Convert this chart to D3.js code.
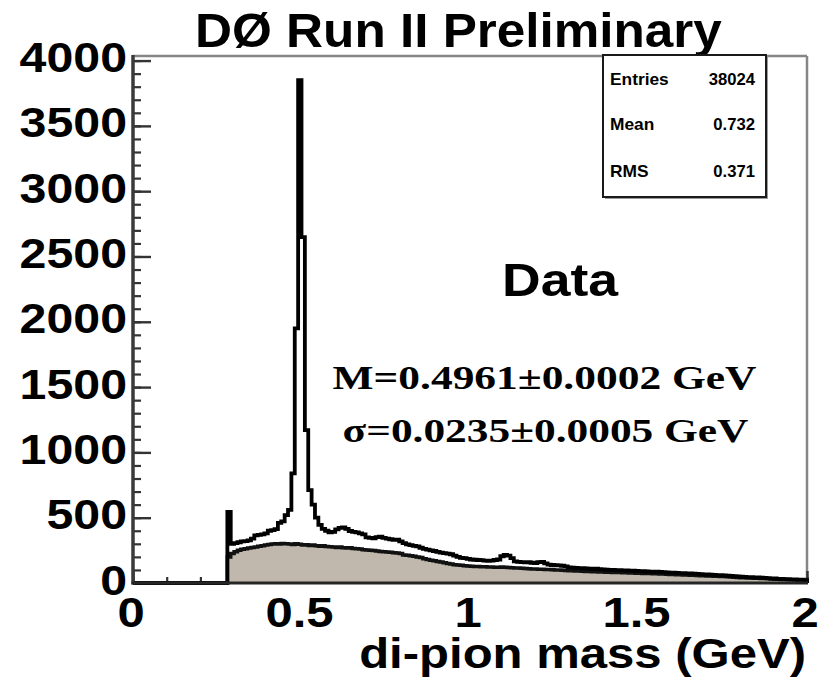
<!DOCTYPE html>
<html>
<head>
<meta charset="utf-8">
<script src="https://cdn.jsdelivr.net/npm/d3@7"></script>
<style>
  html, body { margin: 0; padding: 0; background: #fff; }
  svg { display: block; }
</style>
</head>
<body>
<svg id="chart" width="829" height="695"></svg>
<script>
// ---- histogram content: di-pion invariant mass, 200 bins of 0.01 GeV from 0 to 2 GeV ----
const binWidth = 0.01;

// all pion pairs (open histogram with the K0s peak)
const totalCounts = [
  0, 0, 0, 0, 0, 0, 0, 0, 0, 0,
  0, 0, 0, 0, 0, 0, 0, 0, 0, 0,
  0, 0, 0, 0, 0, 0, 0, 0, 545, 300,
  305, 312, 318, 320, 326, 340, 365, 368, 372, 380,
  400, 405, 412, 460, 472, 520, 560, 840, 1950, 3850,
  2648, 1170, 711, 600, 500, 445, 415, 400, 388, 392,
  410, 422, 425, 415, 398, 392, 388, 380, 372, 350,
  345, 342, 352, 355, 345, 340, 335, 330, 332, 318,
  305, 296, 290, 285, 280, 270, 262, 255, 250, 245,
  238, 232, 228, 225, 220, 210, 200, 192, 190, 185,
  180, 178, 176, 175, 172, 170, 172, 176, 180, 205,
  215, 210, 190, 165, 162, 160, 158, 160, 155, 152,
  160, 162, 150, 140, 138, 136, 135, 132, 128, 120,
  118, 116, 114, 113, 112, 110, 108, 110, 106, 104,
  102, 101, 100, 99, 98, 97, 96, 95, 94, 92,
  91, 90, 88, 87, 86, 86, 85, 84, 82, 80,
  79, 77, 76, 75, 74, 73, 72, 70, 68, 66,
  65, 63, 62, 61, 60, 58, 57, 55, 53, 50,
  48, 46, 45, 44, 43, 42, 41, 40, 38, 36,
  35, 32, 31, 30, 29, 28, 27, 26, 25, 22
];

// combinatorial background (shaded histogram)
const backgroundCounts = [
  0, 0, 0, 0, 0, 0, 0, 0, 0, 0,
  0, 0, 0, 0, 0, 0, 0, 0, 0, 0,
  0, 0, 0, 0, 0, 0, 0, 0, 200, 225,
  240, 250, 258, 262, 268, 272, 276, 282, 285, 290,
  295, 298, 300, 298, 302, 300, 298, 295, 300, 296,
  290, 292, 288, 290, 285, 282, 286, 280, 278, 275,
  272, 275, 270, 268, 270, 265, 262, 260, 255, 252,
  250, 248, 245, 242, 240, 238, 235, 232, 230, 225,
  215, 212, 208, 205, 200, 195, 185, 180, 175, 170,
  165, 160, 155, 150, 145, 140, 138, 135, 133, 130,
  128, 127, 126, 125, 124, 123, 122, 121, 120, 122,
  120, 118, 116, 115, 114, 112, 111, 110, 108, 107,
  106, 105, 104, 103, 102, 100, 99, 97, 95, 94,
  93, 92, 91, 90, 89, 88, 87, 86, 85, 84,
  83, 82, 81, 80, 80, 79, 78, 77, 76, 75,
  74, 73, 72, 72, 71, 70, 69, 68, 67, 66,
  65, 64, 63, 62, 61, 60, 59, 58, 56, 55,
  54, 53, 52, 51, 50, 49, 47, 46, 44, 42,
  41, 40, 39, 38, 37, 36, 35, 34, 32, 31,
  29, 28, 27, 26, 25, 24, 23, 22, 21, 20
];

// axes
const xDomain = [0, 2];
const yDomain = [0, 4035];
const xTickValues = [0, 0.5, 1, 1.5, 2];
const xTickLabels = ["0", "0.5", "1", "1.5", "2"];
const xMinorStep = 0.1;
const yTickValues = [0, 500, 1000, 1500, 2000, 2500, 3000, 3500, 4000];
const yTickLabels = ["0", "500", "1000", "1500", "2000", "2500", "3000", "3500", "4000"];
const yMinorStep = 100;

// texts
const titleText = "DØ Run II Preliminary";
const xAxisTitle = "di-pion mass (GeV)";
const sampleLabel = "Data";
const fitResults = ["M=0.4961±0.0002 GeV", "σ=0.0235±0.0005 GeV"];
const statNames = ["Entries", "Mean", "RMS"];
const statValues = ["38024", "0.732", "0.371"];

// ---- layout ----
const frame = { left: 133, right: 807, top: 56, bottom: 583 };
const SANS = "'Liberation Sans', Arial, Helvetica, sans-serif";
const SERIF = "'Liberation Serif', 'Times New Roman', Times, serif";

const svg = d3.select("#chart");
const x = d3.scaleLinear().domain(xDomain).range([frame.left, frame.right]);
const y = d3.scaleLinear().domain(yDomain).range([frame.bottom, frame.top]);

// place a text, then stretch it horizontally to a given width about its anchor
function fitText(parent, str, opts) {
  const t = parent.append("text")
    .attr("font-family", opts.family)
    .attr("font-size", opts.size)
    .attr("font-weight", opts.weight || "normal")
    .attr("text-anchor", opts.anchor || "start")
    .attr("fill", opts.fill || "#000")
    .text(str);
  let sx = opts.scale || 1;
  if (opts.width) {
    const len = t.node().getComputedTextLength();
    if (len > 0) sx = opts.width / len;
  }
  t.attr("transform", `translate(${opts.x},${opts.y}) scale(${sx},1)`);
  return t;
}

// frame top and right (light)
svg.append("line")
  .attr("x1", frame.left).attr("x2", frame.right)
  .attr("y1", frame.top).attr("y2", frame.top)
  .attr("stroke", "#868686").attr("stroke-width", 2.5);
svg.append("line")
  .attr("x1", frame.right).attr("x2", frame.right)
  .attr("y1", frame.top).attr("y2", frame.bottom)
  .attr("stroke", "#868686").attr("stroke-width", 2.5);

// ticks (drawn inside the frame)
function styleTicks(g, color, width) {
  g.select(".domain").remove();
  g.selectAll(".tick line").attr("stroke", color).attr("stroke-width", width);
  g.selectAll(".tick text").remove();
}
const yMinor = d3.range(yDomain[0], 4000 + 1, yMinorStep);
svg.append("g").attr("transform", `translate(${frame.left},0)`)
  .call(d3.axisRight(y).tickValues(yMinor).tickSize(8).tickFormat(""))
  .call(g => styleTicks(g, "#333", 2.2));
svg.append("g").attr("transform", `translate(${frame.left},0)`)
  .call(d3.axisRight(y).tickValues(yTickValues).tickSize(18).tickFormat(""))
  .call(g => styleTicks(g, "#333", 2.4));

const xMinor = d3.range(0, 20 + 1).map(k => k * xMinorStep);
svg.append("g").attr("transform", `translate(0,${frame.bottom})`)
  .call(d3.axisTop(x).tickValues(xMinor).tickSize(6).tickFormat(""))
  .call(g => styleTicks(g, "#333", 2.2));
svg.append("g").attr("transform", `translate(0,${frame.bottom})`)
  .call(d3.axisTop(x).tickValues(xTickValues).tickSize(12).tickFormat(""))
  .call(g => styleTicks(g, "#333", 2.4));

// ---- histograms ----
function stepPoints(counts) {
  const pts = counts.map((c, i) => [i * binWidth, c]);
  pts.push([xDomain[1], counts[counts.length - 1]]);
  pts.push([xDomain[1], 0]);
  return pts;
}

const bgPts = stepPoints(backgroundCounts);
const totPts = stepPoints(totalCounts);

const area = d3.area()
  .curve(d3.curveStepAfter)
  .x(d => x(d[0]))
  .y0(y(0))
  .y1(d => y(d[1]));
const line = d3.line()
  .curve(d3.curveStepAfter)
  .x(d => x(d[0]))
  .y(d => y(d[1]));

svg.append("path")
  .attr("d", area(bgPts))
  .attr("fill", "#c0b8ad")
  .attr("stroke", "none");
svg.append("path")
  .attr("d", line(bgPts))
  .attr("fill", "none")
  .attr("stroke", "#111")
  .attr("stroke-width", 3.5)
  .attr("stroke-linejoin", "miter");
svg.append("path")
  .attr("d", line(totPts))
  .attr("fill", "none")
  .attr("stroke", "#000")
  .attr("stroke-width", 3.8)
  .attr("stroke-linejoin", "miter");

// left and bottom axis lines
svg.append("line")
  .attr("x1", frame.left).attr("x2", frame.left)
  .attr("y1", frame.top - 1).attr("y2", frame.bottom + 1.5)
  .attr("stroke", "#3a3a3a").attr("stroke-width", 3.5);
svg.append("line")
  .attr("x1", frame.left - 1.5).attr("x2", frame.right + 1)
  .attr("y1", frame.bottom).attr("y2", frame.bottom)
  .attr("stroke", "#262626").attr("stroke-width", 3);

// ---- tick labels ----
yTickValues.forEach((v, i) => {
  fitText(svg, yTickLabels[i], {
    family: SANS, size: 42, weight: "bold", anchor: "end",
    x: 127, y: y(v) + 11.5, scale: 1.15
  });
});
xTickValues.forEach((v, i) => {
  fitText(svg, xTickLabels[i], {
    family: SANS, size: 43, weight: "bold", anchor: "middle",
    x: x(v) - 2, y: 627, scale: 1.14
  });
});

// axis title
fitText(svg, xAxisTitle, {
  family: SANS, size: 43, weight: "bold", anchor: "end",
  x: 806, y: 668, width: 447
});

// title
fitText(svg, titleText, {
  family: SANS, size: 48, weight: "bold", anchor: "start",
  x: 195, y: 47, width: 527
});

// sample label and fit results
fitText(svg, sampleLabel, {
  family: SANS, size: 47, weight: "bold", anchor: "start",
  x: 502, y: 296, width: 116
});
fitText(svg, fitResults[0], {
  family: SERIF, size: 34, weight: "bold", anchor: "middle",
  x: 544.5, y: 389, width: 424
});
fitText(svg, fitResults[1], {
  family: SERIF, size: 34, weight: "bold", anchor: "middle",
  x: 545.5, y: 442, width: 406
});

// ---- statistics box ----
const box = { x0: 603, x1: 766, y0: 55, y1: 197 };
svg.append("rect")
  .attr("x", box.x0 + 2).attr("y", box.y0 + 2)
  .attr("width", box.x1 - box.x0).attr("height", box.y1 - box.y0)
  .attr("fill", "#9a9a9a");
svg.append("rect")
  .attr("x", box.x0).attr("y", box.y0)
  .attr("width", box.x1 - box.x0).attr("height", box.y1 - box.y0)
  .attr("fill", "#fff").attr("stroke", "#1a1a1a").attr("stroke-width", 2);
const statBaselines = [85, 130, 176.5];
statNames.forEach((name, i) => {
  fitText(svg, name, {
    family: SANS, size: 17, weight: "bold", anchor: "start",
    x: 610, y: statBaselines[i], scale: 1.02
  });
  fitText(svg, statValues[i], {
    family: SANS, size: 17, weight: "bold", anchor: "end",
    x: 755, y: statBaselines[i], scale: 0.98
  });
});
</script>
</body>
</html>
